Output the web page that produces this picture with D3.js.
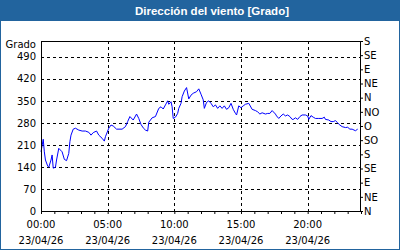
<!DOCTYPE html>
<html>
<head>
<meta charset="utf-8">
<script src="https://cdn.jsdelivr.net/npm/d3@7"></script>
<style>
  html, body { margin: 0; padding: 0; background: #fff; }
  svg text { font-family: "DejaVu Sans", sans-serif; }
</style>
</head>
<body>
<div id="wrapper"></div>
<script>
const title = "Dirección del viento [Grado]"
const yLabel = "Grado"
const day = "2026-04-23"
const dateLabel = "23/04/26"
const times = [
  "00:00","00:10","00:15","00:20","00:30","00:35","00:45","00:50","00:55","01:05",
  "01:10","01:20","01:35","01:45","01:55","02:05","02:10","02:15","02:25","02:35",
  "02:50","03:05","03:20","03:35","03:45","03:55","04:10","04:20","04:35","04:45",
  "04:50","05:05","05:15","05:25","05:40","06:05","06:20","06:30","06:40","06:55",
  "07:10","07:20","07:30","07:40","07:50","08:00","08:05","08:20","08:35","08:50",
  "09:00","09:10","09:20","09:30","09:35","09:45","09:50","09:55","10:05","10:15",
  "10:20","10:30","10:35","10:45","10:55","11:05","11:15","11:25","11:40","11:50",
  "12:00","12:10","12:15","12:25","12:35","12:45","12:55","13:05","13:15","13:25",
  "13:35","13:45","13:55","14:05","14:15","14:25","14:35","14:40","14:50","15:00",
  "15:10","15:20","15:35","15:50","16:05","16:15","16:25","16:35","16:50","17:00",
  "17:10","17:20","17:35","17:40","17:50","18:00","18:10","18:20","18:30","18:40",
  "18:50","18:55","19:05","19:15","19:25","19:35","19:50","20:00","20:05","20:15",
  "20:25","20:35","20:50","21:05","21:15","21:20","21:35","21:45","21:55","22:05",
  "22:15","22:25","22:35","22:50","23:00","23:10","23:20","23:35","23:45"
]
const direction = [
  188,228,188,162,143,139,162,178,136,139,
  162,199,188,164,160,183,220,241,260,263,
  257,254,254,250,241,249,254,241,231,222,
  236,263,273,270,260,260,268,284,300,289,
  308,294,275,264,257,254,282,296,300,326,
  331,324,337,350,339,347,331,294,298,310,
  326,342,363,381,392,356,368,374,379,388,
  371,353,326,345,350,342,331,337,326,334,
  326,334,323,328,342,323,310,305,334,328,
  334,339,342,323,319,315,308,312,308,310,
  310,319,308,302,294,302,308,302,305,300,
  291,291,296,291,300,305,305,302,291,303,
  298,294,294,294,298,291,289,284,284,287,
  280,273,268,265,266,260,260,255,260
]
const leftTicks = [0, 70, 140, 210, 280, 350, 420, 490]
const compassTicks = [0, 45, 90, 135, 180, 225, 270, 315, 360, 405, 450, 495, 540]
const compassLabels = ["N","NE","E","SE","S","SO","O","NO","N","NE","E","SE","S"]
const labelHours = [0, 5, 10, 15, 20]

const parse = d3.timeParse("%Y-%m-%d %H:%M")
const dataset = times.map((t, i) => ({ date: parse(day + " " + t), value: direction[i] }))

const dimensions = {
  width: 400,
  height: 250,
  margin: { top: 41, right: 39, bottom: 39, left: 41 },
}
dimensions.boundedWidth = dimensions.width - dimensions.margin.left - dimensions.margin.right
dimensions.boundedHeight = dimensions.height - dimensions.margin.top - dimensions.margin.bottom

const frameColor = "#22649e"

const wrapper = d3.select("#wrapper")
  .append("svg")
  .attr("width", dimensions.width)
  .attr("height", dimensions.height)

wrapper.append("rect")
  .attr("x", 0.5).attr("y", 0.5)
  .attr("width", dimensions.width - 1).attr("height", dimensions.height - 1)
  .attr("fill", "#fff").attr("stroke", frameColor)

wrapper.append("rect")
  .attr("width", dimensions.width).attr("height", 21)
  .attr("fill", frameColor)

wrapper.append("text")
  .attr("x", 212).attr("y", 14.5)
  .attr("text-anchor", "middle")
  .attr("fill", "#fff")
  .style("font-family", "'Liberation Sans', Arial, sans-serif")
  .style("font-size", "11.5px")
  .style("font-weight", "bold")
  .text(title)

const bounds = wrapper.append("g")
  .attr("transform", `translate(${dimensions.margin.left},${dimensions.margin.top})`)

const t0 = parse(day + " 00:00")
const t1 = d3.timeDay.offset(t0, 1)
const xScale = d3.scaleTime()
  .domain([t0, t1])
  .range([0, dimensions.boundedWidth])

const yScale = d3.scaleLinear()
  .domain([0, 540])
  .range([dimensions.boundedHeight, 0])

// grid
bounds.append("g")
  .selectAll("line")
  .data(leftTicks.filter(d => d > 0))
  .join("line")
  .attr("x1", 0).attr("x2", dimensions.boundedWidth)
  .attr("y1", d => Math.round(yScale(d)) + 0.5)
  .attr("y2", d => Math.round(yScale(d)) + 0.5)
  .attr("stroke", "#000")
  .attr("stroke-dasharray", "3,3")

bounds.append("g")
  .selectAll("line")
  .data(labelHours.filter(h => h > 0))
  .join("line")
  .attr("x1", h => Math.round(xScale(d3.timeHour.offset(t0, h))) + 0.5)
  .attr("x2", h => Math.round(xScale(d3.timeHour.offset(t0, h))) + 0.5)
  .attr("y1", 0).attr("y2", dimensions.boundedHeight)
  .attr("stroke", "#000")
  .attr("stroke-dasharray", "3,3")

// line
const line = d3.line()
  .x(d => xScale(d.date))
  .y(d => yScale(d.value))

bounds.append("path")
  .datum(dataset)
  .attr("d", line)
  .attr("fill", "none")
  .attr("stroke", "#0000ff")
  .attr("stroke-width", 1)

// frame
bounds.append("rect")
  .attr("x", 0.5).attr("y", 0.5)
  .attr("width", dimensions.boundedWidth - 1)
  .attr("height", dimensions.boundedHeight)
  .attr("fill", "none")
  .attr("stroke", "#000")

// axes
const xAxis = d3.axisBottom(xScale)
  .tickValues(d3.range(0, 25).map(h => d3.timeHour.offset(t0, h)))
  .tickSize(3)
  .tickFormat("")
const xAxisGroup = bounds.append("g")
  .attr("transform", `translate(0,${dimensions.boundedHeight})`)
  .call(xAxis)
xAxisGroup.select(".domain").remove()

const xLabels = bounds.append("g")
  .attr("transform", `translate(0,${dimensions.boundedHeight})`)
  .selectAll("text")
  .data(labelHours)
  .join("text")
  .attr("x", h => xScale(d3.timeHour.offset(t0, h)))
  .attr("text-anchor", "middle")
  .attr("fill", "#000")
  .style("font-size", "10px")
xLabels.append("tspan")
  .attr("x", h => xScale(d3.timeHour.offset(t0, h)))
  .attr("y", 17)
  .text(h => d3.timeFormat("%H:%M")(d3.timeHour.offset(t0, h)))
xLabels.append("tspan")
  .attr("x", h => xScale(d3.timeHour.offset(t0, h)))
  .attr("y", 33)
  .text(dateLabel)

const yAxis = d3.axisLeft(yScale)
  .tickValues(leftTicks)
  .tickSize(0)
  .tickPadding(5)
const yAxisGroup = bounds.append("g").call(yAxis)
yAxisGroup.select(".domain").remove()
yAxisGroup.selectAll("text").style("font-size", "10px").attr("fill", "#000")

bounds.append("text")
  .attr("x", -5).attr("y", 4)
  .attr("dy", "0.32em")
  .attr("text-anchor", "end")
  .attr("fill", "#000")
  .style("font-size", "10px")
  .text(yLabel)

const rightAxis = d3.axisRight(yScale)
  .tickValues(compassTicks)
  .tickFormat((d, i) => compassLabels[i])
  .tickSize(2)
  .tickPadding(1)
const rightGroup = bounds.append("g")
  .attr("transform", `translate(${dimensions.boundedWidth},0)`)
  .call(rightAxis)
rightGroup.select(".domain").remove()
rightGroup.selectAll("text").style("font-size", "10px").attr("fill", "#000")
</script>
</body>
</html>
